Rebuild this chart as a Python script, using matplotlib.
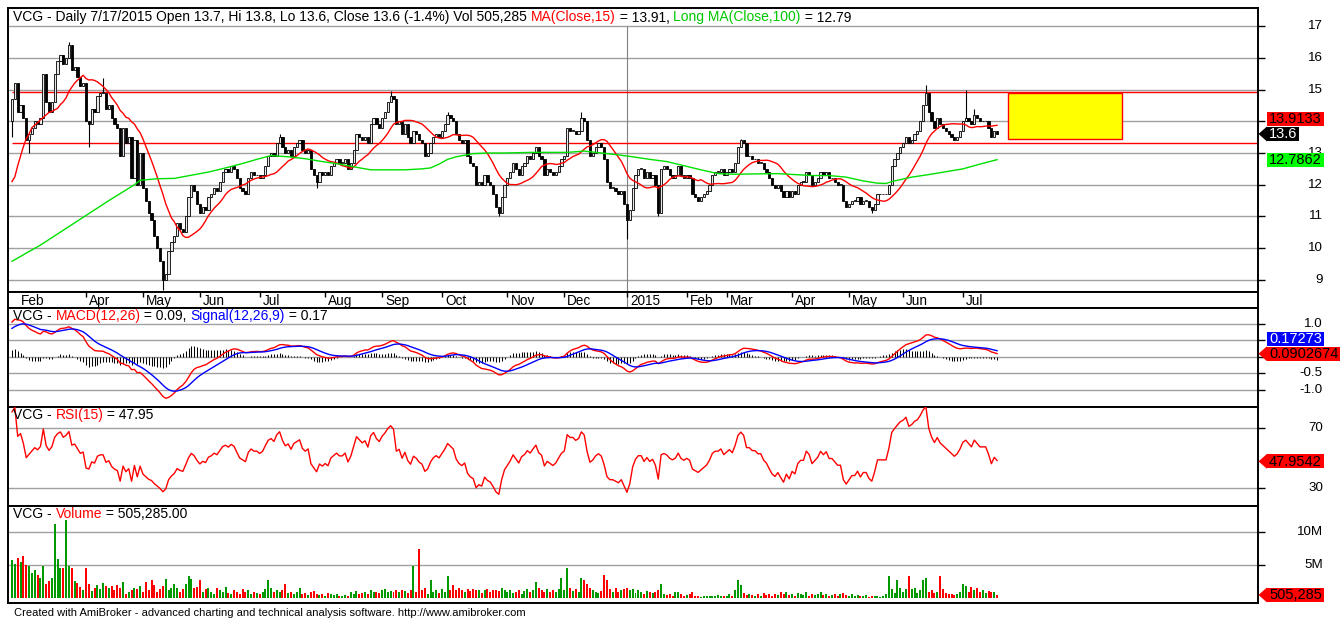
import numpy as np
import pandas as pd
import matplotlib
matplotlib.use("Agg")
import matplotlib.pyplot as plt
from matplotlib.patches import Rectangle, Polygon
from matplotlib.transforms import IdentityTransform, offset_copy

plt.rcParams['font.family'] = ['Liberation Sans', 'DejaVu Sans']

W, H, DPI = 1341, 618, 100

# ------------------------------------------------------------------ data
symbol = "VCG"
first_open = 14.0
closes = [
    14.7, 15.2, 14.3, 14.5, 14.1, 13.4, 13.6, 13.8, 14.0, 13.9,
    14.1, 15.5, 14.6, 14.3, 14.6, 15.5, 15.9, 16.1, 15.8, 16.0,
    16.4, 15.6, 15.7, 15.4, 15.1, 15.2, 14.0, 13.9, 14.4, 14.3,
    14.8, 14.9, 14.9, 14.4, 14.5, 14.1, 13.9, 13.8, 12.9, 13.8,
    13.3, 13.5, 12.2, 13.4, 12.0, 13.0, 11.9, 11.5, 11.1, 10.9,
    10.4, 10.0, 9.6, 9.0, 9.2, 9.9, 10.2, 10.4, 10.8, 10.6,
    10.5, 11.0, 11.6, 12.0, 11.8, 11.4, 11.1, 11.3, 11.2, 11.6,
    11.7, 11.9, 11.8, 12.1, 12.4, 12.5, 12.4, 12.6, 12.5, 12.2,
    11.9, 11.8, 11.7, 12.2, 12.4, 12.3, 12.3, 12.2, 12.3, 12.6,
    12.9, 13.0, 12.9, 13.3, 13.5, 13.2, 13.0, 13.1, 12.9, 13.2,
    13.3, 13.4, 13.1, 13.0, 13.1, 12.5, 12.3, 12.1, 12.4, 12.3,
    12.4, 12.3, 12.6, 12.7, 12.8, 12.7, 12.7, 12.8, 12.5, 12.7,
    13.1, 13.6, 13.5, 13.4, 13.5, 13.3, 13.9, 14.1, 13.9, 13.8,
    14.1, 14.3, 14.6, 14.8, 14.7, 13.9, 14.0, 13.6, 13.9, 13.5,
    13.3, 13.7, 13.6, 13.4, 13.3, 12.9, 13.0, 13.3, 13.5, 13.6,
    13.5, 13.7, 13.9, 14.2, 14.1, 14.0, 13.6, 13.4, 13.3, 13.4,
    12.9, 12.7, 12.6, 12.0, 12.1, 12.0, 12.3, 12.1, 12.0, 11.7,
    11.3, 11.1, 11.6, 12.0, 12.2, 12.4, 12.7, 12.5, 12.3, 12.6,
    12.7, 12.9, 12.8, 13.0, 13.2, 12.9, 12.8, 12.3, 12.5, 12.4,
    12.3, 12.4, 12.6, 12.8, 12.9, 13.8, 13.7, 13.7, 13.6, 13.7,
    14.1, 14.0, 13.4, 12.9, 13.0, 13.2, 13.3, 13.2, 12.8, 12.1,
    11.9, 11.9, 11.8, 11.7, 11.8, 11.4, 10.9, 11.2, 11.9, 12.3,
    12.5, 12.5, 12.2, 12.4, 12.2, 12.3, 12.0, 11.1, 12.5, 12.6,
    12.5, 12.3, 12.2, 12.3, 12.6, 12.3, 12.2, 12.3, 12.2, 11.7,
    11.6, 11.5, 11.6, 11.7, 11.8, 12.0, 12.3, 12.4, 12.4, 12.5,
    12.3, 12.4, 12.5, 12.4, 12.7, 13.2, 13.4, 13.3, 12.9, 12.9,
    12.8, 12.8, 12.7, 12.7, 12.5, 12.4, 12.2, 12.0, 11.9, 12.0,
    11.8, 11.6, 11.8, 11.6, 11.8, 11.7, 12.0, 12.1, 12.1, 12.4,
    12.3, 12.0, 12.1, 12.2, 12.4, 12.3, 12.4, 12.2, 12.2, 12.1,
    12.0, 12.0, 11.5, 11.3, 11.4, 11.5, 11.5, 11.6, 11.4, 11.5,
    11.5, 11.3, 11.2, 11.4, 11.7, 11.7, 11.7, 11.7, 12.0, 12.6,
    12.8, 13.0, 13.2, 13.3, 13.5, 13.3, 13.4, 13.6, 13.7, 14.0,
    14.5, 14.9, 14.3, 14.0, 13.8, 14.1, 13.9, 13.8, 13.7, 13.6,
    13.5, 13.4, 13.5, 13.7, 14.0, 14.1, 14.0, 13.9, 14.2, 14.1,
    14.0, 14.0, 14.0, 13.8, 13.5, 13.7, 13.6,
]
volume_m = [
    5.8, 5.2, 6.0, 5.5, 6.3, 5.0, 4.8, 3.8, 4.2, 3.5,
    3.0, 4.8, 2.2, 2.6, 3.0, 11.2, 5.9, 4.6, 4.6, 11.8,
    4.8, 4.6, 2.6, 2.3, 1.7, 1.2, 4.6, 2.2, 1.1, 1.6,
    2.0, 1.4, 2.3, 1.8, 1.5, 1.8, 1.3, 2.0, 1.5, 2.5,
    0.6, 0.9, 1.2, 1.5, 1.4, 1.8, 1.0, 2.5, 1.2, 2.7,
    2.0, 1.0, 1.4, 1.8, 2.9, 1.3, 1.6, 2.2, 1.5, 1.0,
    1.4, 2.2, 3.3, 2.9, 1.5, 1.7, 2.8, 1.0, 1.4, 1.6,
    0.9, 0.7, 1.5, 1.2, 1.0, 1.7, 0.8, 0.6, 1.3, 1.0,
    0.7, 1.4, 0.9, 1.2, 0.6, 1.0, 0.8, 0.6, 1.0, 1.4,
    2.7, 1.5, 1.0, 1.3, 0.9, 1.2, 2.2, 0.8, 0.9, 0.7,
    1.0, 1.6, 0.6, 0.8, 0.5, 0.9, 1.1, 0.7, 0.5, 0.6,
    0.4, 0.8, 0.6, 0.5, 0.7, 0.4, 0.3, 0.5, 0.4, 0.9,
    0.6, 1.1, 0.7, 0.8, 1.0, 0.7, 1.3, 0.9, 1.0, 0.8,
    1.2, 1.4, 0.9, 1.1, 1.0, 1.2, 1.0, 1.3, 1.1, 0.8,
    1.2, 4.9, 1.0, 7.4, 1.2, 1.6, 0.7, 2.8, 0.9, 1.2,
    0.8, 1.4, 1.0, 3.4, 1.2, 2.0, 1.3, 1.5, 1.2, 1.0,
    1.4, 1.1, 1.4, 1.3, 1.2, 0.8, 1.2, 1.4, 0.9, 1.2,
    1.3, 1.1, 1.5, 1.2, 1.0, 1.3, 0.8, 1.0, 1.3, 0.7,
    1.1, 1.4, 0.9, 1.2, 2.5, 1.5, 1.3, 1.0, 1.4, 0.9,
    1.2, 1.0, 1.4, 3.0, 1.3, 4.6, 1.5, 1.1, 1.4, 1.0,
    3.0, 2.8, 2.2, 1.6, 1.2, 1.0, 0.8, 1.1, 3.5, 2.8,
    1.4, 1.0, 1.5, 0.9, 1.3, 1.4, 1.6, 1.2, 1.4, 0.8,
    1.2, 1.0, 0.7, 1.1, 1.0, 0.8, 1.0, 1.2, 2.2, 0.7,
    0.5, 0.6, 0.4, 0.9, 1.0, 0.6, 0.4, 0.5, 0.7, 0.9,
    0.4, 0.3, 0.2, 0.3, 0.4, 0.3, 0.4, 0.3, 0.5, 0.3,
    0.4, 0.3, 0.6, 0.4, 1.2, 2.7, 2.0, 0.8, 0.5, 0.6,
    0.5, 0.3, 0.6, 0.4, 0.8, 0.5, 0.7, 0.4, 0.6, 0.5,
    0.9, 0.6, 1.0, 0.5, 0.7, 0.4, 0.8, 0.6, 0.5, 0.9,
    0.4, 0.6, 0.5, 0.7, 0.9, 0.5, 0.6, 0.4, 0.5, 0.7,
    0.4, 0.6, 0.8, 0.5, 0.4, 0.6, 0.3, 0.5, 0.4, 0.3,
    0.5, 0.2, 0.3, 0.4, 0.3, 0.2, 0.4, 0.6, 3.4, 1.4,
    0.8, 2.8, 1.5, 1.0, 1.4, 3.3, 1.4, 1.6, 0.8, 1.3,
    2.8, 3.0, 0.9, 1.2, 0.8, 1.0, 3.3, 1.4, 0.8, 0.6,
    0.7, 0.5, 0.6, 1.0, 2.2, 1.9, 1.0, 1.7, 1.2, 1.5,
    1.0, 1.2, 0.8, 1.1, 0.9, 1.0, 0.505,
]
ma15_head = [12.1, 12.25, 12.6, 12.9, 13.2, 13.45, 13.6, 13.8, 13.88,
             13.95, 14.05, 14.12, 14.2, 14.28]
ma100_bars = [0, 10, 22, 34, 43, 45, 51, 57, 63, 69, 75, 81, 86, 91, 97,
              103, 109, 115, 121, 126, 132, 138, 144, 147, 150, 153, 156,
              162, 167, 173, 183, 195, 201, 207, 213, 218, 224, 230, 236,
              242, 248, 254, 260, 269, 275, 281, 287, 293, 299, 304, 307,
              309, 313, 316, 322, 328, 334, 340, 346]
ma100_vals = [9.59, 10.1, 10.8, 11.5, 12.0, 12.14, 12.19, 12.2, 12.3, 12.4,
              12.53, 12.67, 12.8, 12.92, 12.88, 12.82, 12.73, 12.65, 12.55,
              12.47, 12.47, 12.47, 12.5, 12.53, 12.65, 12.8, 12.88, 12.98,
              13.0, 13.0, 13.02, 13.02, 13.06, 13.0, 12.94, 12.88, 12.8,
              12.73, 12.6, 12.47, 12.35, 12.33, 12.34, 12.35, 12.32, 12.29,
              12.29, 12.24, 12.12, 12.05, 12.04, 12.1, 12.18, 12.24, 12.32,
              12.41, 12.5, 12.65, 12.79]
wick_high = {20: 16.5, 32: 15.35, 94: 13.6, 133: 14.95, 153: 14.3,
             200: 14.3, 256: 13.45, 321: 15.15, 335: 15.0, 338: 14.4}
wick_low = {0: 13.5, 6: 13.0, 27: 13.2, 53: 8.7, 107: 11.9, 171: 11.0,
            216: 10.3, 227: 11.0, 302: 11.1}
month_labels = ['Feb', 'Apr', 'May', 'Jun', 'Jul', 'Aug', 'Sep', 'Oct', 'Nov',
                'Dec', '2015', 'Feb', 'Mar', 'Apr', 'May', 'Jun', 'Jul']
month_bars = [2, 26, 46, 66, 87, 110, 130, 151, 174, 194, 216, 237, 251, 274,
              294, 313, 334]
year_bar = 216
resistance_level = 14.93
support_level = 13.33
zone_bars = (349.8, 389.9)
zone_prices = (13.45, 14.88)
price_ticks = [17, 16, 15, 14, 13, 12, 11, 10, 9]
price_tick_labels = ['17', '16', '15', '', '13', '12', '11', '10', '9']
macd_ticks = [1.0, 0.5, 0.0, -0.5, -1.0]
macd_tick_labels = ['1.0', '', '', '-0.5', '-1.0']
rsi_ticks = [70, 30]
vol_ticks = [10, 5]
vol_tick_labels = ['10M', '5M']
ema12_seed, ema26_seed, signal_seed = 12.9, 11.92, 0.81
rsi_gain_seed, rsi_loss_seed = 0.12, 0.04

header = "VCG - Daily 7/17/2015 Open 13.7, Hi 13.8, Lo 13.6, Close 13.6 (-1.4%) Vol 505,285 "
footer = ("Created with AmiBroker - advanced charting and technical analysis "
          "software. http://www.amibroker.com")

# ------------------------------------------------------------------ derived
RED, GREEN, BLUE = '#ff0000', '#00e000', '#0000ff'
c = np.asarray(closes, float)
v = np.asarray(volume_m, float)
n = len(c)
assert n == len(v) == 347
x = np.arange(n)
o = np.concatenate([[first_open], c[:-1]])
hi = np.maximum(o, c)
lo = np.minimum(o, c)
for k, val in wick_high.items():
    hi[k] = max(hi[k], val)
for k, val in wick_low.items():
    lo[k] = min(lo[k], val)

ma15 = pd.Series(c).rolling(15).mean().values
ma15[:len(ma15_head)] = ma15_head


def ema(vals, period, seed):
    a = 2.0 / (period + 1)
    out = np.empty(len(vals))
    prev = seed
    for i, val in enumerate(vals):
        prev = prev + a * (val - prev)
        out[i] = prev
    return out


macd = ema(c, 12, ema12_seed) - ema(c, 26, ema26_seed)
signal = ema(macd, 9, signal_seed)
hist = macd - signal

rsi = np.empty(n)
ag, al = rsi_gain_seed, rsi_loss_seed
prev = first_open
for i in range(n):
    d = c[i] - prev
    prev = c[i]
    ag = (ag * 14 + max(d, 0)) / 15
    al = (al * 14 + max(-d, 0)) / 15
    rsi[i] = 100 * ag / (ag + al)

# ------------------------------------------------------------------ layout
fig = plt.figure(figsize=(W / DPI, H / DPI), dpi=DPI)
fig.patch.set_facecolor('white')
L, R = 8, 1258
XMIN, XMAX = -1.405, 437.65


def add_ax(top, bottom):
    a = fig.add_axes([L / W, 1 - bottom / H, (R - L) / W, (bottom - top) / H])
    a.set_xlim(XMIN, XMAX)
    a.set_xticks([])
    for s in a.spines.values():
        s.set_linewidth(1.4)
        s.set_color('black')
    a.yaxis.set_ticks_position('right')
    a.tick_params(axis='y', direction='out', length=5, width=1,
                  labelright=False, labelleft=False)
    return a


ax_p = add_ax(8, 292)
ax_d = add_ax(292, 308)
ax_m = add_ax(308, 406.7)
ax_r = add_ax(406.7, 505.7)
ax_v = add_ax(505.7, 603)

ax_p.set_ylim(8.622, 17.567)
ax_m.set_ylim(-1.515, 1.476)
ax_r.set_ylim(18.4, 84.4)
ax_v.set_ylim(-0.7, 13.9)
ax_d.set_ylim(0, 1)
ax_d.set_yticks([])

GRID = '#a0a0a0'
for a, ticks in ((ax_p, price_ticks), (ax_m, macd_ticks),
                 (ax_r, rsi_ticks), (ax_v, vol_ticks)):
    a.set_yticks(ticks)
    for t in ticks:
        a.axhline(t, color=GRID, lw=1.0, zorder=0)

# ---- price panel
ax_p.vlines(year_bar, ax_p.get_ylim()[0], 17.0, color='#808080', lw=0.8, zorder=0)
ax_d.vlines(year_bar, 0, 1, color='#808080', lw=0.8, zorder=0)
ax_p.hlines([resistance_level, support_level], 0, XMAX, color=RED, lw=1.0, zorder=1)
ax_p.add_patch(Rectangle((zone_bars[0], zone_prices[0]), zone_bars[1] - zone_bars[0],
                         zone_prices[1] - zone_prices[0], facecolor='#ffff00',
                         edgecolor=RED, lw=1.0, zorder=1))
up = c >= o
ax_p.vlines(x, lo, hi, color='black', lw=0.8, zorder=2)
body_h = np.maximum(np.abs(c - o), 0.02)
ax_p.bar(x, body_h, bottom=np.minimum(o, c), width=0.78,
         color=np.where(up, '#e8e8e8', 'black'), edgecolor='black',
         linewidth=0.6, zorder=3)
ax_p.plot(x, ma15, color=RED, lw=1.0, zorder=4)
ax_p.plot(ma100_bars, ma100_vals, color=GREEN, lw=1.0, zorder=4)

# ---- date strip
tr = offset_copy(ax_d.transData, fig=fig, x=3, y=0, units='dots')
for lab, b in zip(month_labels, month_bars):
    if b > 5:
        ax_d.vlines(b, 0.66, 1.0, color='black', lw=1.0)
    ax_d.text(b, 0.45, lab, transform=tr, ha='left', va='center', fontsize=9.8)

# ---- MACD panel
ax_m.vlines(x, 0, hist, color='black', lw=0.75, zorder=2)
ax_m.plot(x, macd, color=RED, lw=1.0, zorder=3)
ax_m.plot(x, signal, color=BLUE, lw=1.0, zorder=3)

# ---- RSI panel
ax_r.plot(x, rsi, color=RED, lw=1.0, zorder=3)

# ---- volume panel
ax_v.bar(x, v, width=0.7, color=np.where(up, '#009a00', RED), linewidth=0, zorder=2)

# ------------------------------------------------------------------ texts
renderer = fig.canvas.get_renderer()
TFS = 10.0


def rainbow(x_px, y_px, parts, fs=TFS):
    xx = x_px
    for s, col in parts:
        t = fig.text(xx / W, 1 - y_px / H, s, color=col, fontsize=fs,
                     ha='left', va='center', zorder=6)
        xx += t.get_window_extent(renderer=renderer).width


rainbow(13, 17.5, [(header, 'black'), ('MA(Close,15)', RED), (' = 13.91, ', 'black'),
                   ('Long MA(Close,100)', '#00c800'), (' = 12.79', 'black')])
rainbow(13, 316, [(symbol + ' - ', 'black'), ('MACD(12,26)', RED),
                  (' = 0.09, ', 'black'), ('Signal(12,26,9)', BLUE),
                  (' = 0.17', 'black')])
rainbow(13, 415, [(symbol + ' - ', 'black'), ('RSI(15)', RED), (' = 47.95', 'black')])
rainbow(13, 514.5, [(symbol + ' - ', 'black'), ('Volume', RED), (' = 505,285.00', 'black')])
fig.text(14 / W, 1 - 613 / H, footer, fontsize=8.0, ha='left', va='center')


def ydisp(a, val):
    return a.transData.transform((0, val))[1]


def tick_labels(a, ticks, labels):
    for t, lab in zip(ticks, labels):
        if lab:
            fig.text(1323 / W, ydisp(a, t) / H, lab, fontsize=9.6, ha='right',
                     va='center', zorder=1)


tick_labels(ax_p, price_ticks, price_tick_labels)
tick_labels(ax_m, macd_ticks, macd_tick_labels)
tick_labels(ax_r, rsi_ticks, [str(t) for t in rsi_ticks])
tick_labels(ax_v, vol_ticks, vol_tick_labels)


def value_box(yd, text, face, tcolor, arrow):
    t = fig.text(1269 / W, (yd - 0.5) / H, text, color=tcolor, fontsize=10.5,
                 ha='left', va='center', zorder=8)
    bb = t.get_window_extent(renderer=renderer)
    hh = 14
    fig.add_artist(Rectangle((1266.5, yd - hh / 2), bb.x1 + 2 - 1266.5, hh,
                             transform=IdentityTransform(), facecolor=face,
                             edgecolor='none', zorder=7))
    if arrow:
        fig.add_artist(Polygon([[1258.5, yd], [1267, yd + 7.5], [1267, yd - 7.5]],
                               closed=True, transform=IdentityTransform(),
                               facecolor=face, edgecolor='none', zorder=7))


last_close = c[-1]
y_close = ydisp(ax_p, last_close)
y_ma15 = max(ydisp(ax_p, ma15[-1]), y_close + 15)
value_box(y_close, '%.1f' % last_close, 'black', 'white', True)
value_box(y_ma15, '13.9133', RED, 'black', False)
value_box(ydisp(ax_p, ma100_vals[-1]), '12.7862', '#00ff00', 'black', False)

y_macd = ydisp(ax_m, 0.0902674)
value_box(y_macd, '0.0902674', RED, 'black', True)
value_box(max(ydisp(ax_m, 0.17273), y_macd + 15), '0.17273', BLUE, 'white', False)
value_box(ydisp(ax_r, 47.9542), '47.9542', RED, 'black', True)
value_box(ydisp(ax_v, 0.505285), '505,285', RED, 'black', True)

fig.savefig('out.png', dpi=DPI)
